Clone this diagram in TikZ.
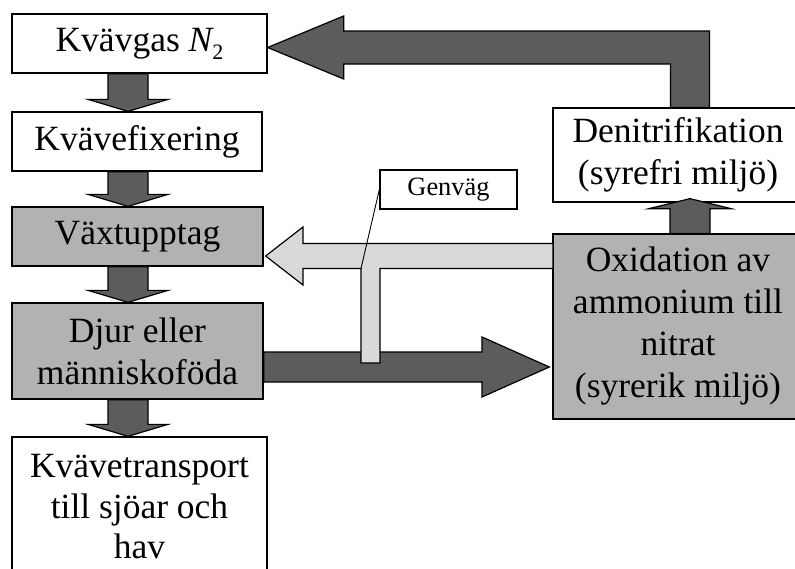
\documentclass[tikz,border=0pt]{standalone}
\usepackage{fontspec}
\setmainfont{Liberation Serif}
\usetikzlibrary{calc}
\tikzset{
  box/.style={draw=black, line width=1.3pt, inner sep=0pt, align=center,
    font=\fontsize{35.5}{42}\selectfont},
  lightbox/.style={box, fill=black!30},
  darkarrow/.style={fill=black!64, draw=black, line width=1.2pt, line join=miter},
  lightarrow/.style={fill=black!15, draw=black, line width=1.2pt, line join=miter},
  calloutline/.style={draw=black, line width=0.9pt}
}
\newcommand{\dnblock}[2]{%
  \filldraw[darkarrow] ($(#1.south -| colx)+(-20,0)$) -- ($(#2.north -| colx)+(-20,-12)$)
    -- ($(#2.north -| colx)+(-40,-12)$) -- (#2.north -| colx)
    -- ($(#2.north -| colx)+(40,-12)$) -- ($(#2.north -| colx)+(20,-12)$)
    -- ($(#1.south -| colx)+(20,0)$) -- cycle;}
\begin{document}
\begin{tikzpicture}[x=1pt,y=-1pt]
\useasboundingbox (0,0) rectangle (795,568);
\clip (0,0) rectangle (795,568);
% left column
\node[box, minimum width=255pt, minimum height=59pt] (kvg) at (139.5,43.5)
  {Kvävgas {\itshape N}\raisebox{-0.22em}{\fontsize{22}{22}\selectfont 2}};
\node[box, minimum width=250pt, minimum height=59pt] (kvf) at (137,141.5) {Kvävefixering};
\node[lightbox, minimum width=251pt, minimum height=59pt] (vax) at (137.5,236.5) {Växtupptag};
\node[lightbox, minimum width=251pt, minimum height=96pt] (djur) at (137.5,351)
  {Djur eller\\människoföda};
\node[box, minimum width=255pt, minimum height=140pt,
  font=\fontsize{35.5}{40.5}\selectfont] (kvt) at (139.5,507)
  {Kvävetransport\\till sjöar och\\hav};
% right column
\node[box, minimum width=250pt, minimum height=94pt, fill=white] (den) at (678,155)
  {Denitrifikation\\(syrefri miljö)};
\node[lightbox, minimum width=250pt, minimum height=185pt] (oxi) at (678,326.5)
  {Oxidation av\\ammonium till\\nitrat\\(syrerik miljö)};
% callout box
\node[box, fill=white, minimum width=137pt, minimum height=39pt,
  font=\fontsize{26.4}{30}\selectfont] (gen) at (448.5,189.5) {Genväg};
% helper coordinates
\coordinate (colx) at (128,0);
\coordinate (rcol) at (690,0);
\coordinate (ry) at (0,367);
\coordinate (ly) at (0,256);
% vertical arrows in the left column
\dnblock{kvg}{kvf}
\dnblock{kvf}{vax}
\dnblock{vax}{djur}
\dnblock{djur}{kvt}
% up arrow oxidation -> denitrifikation
\filldraw[darkarrow] ($(oxi.north -| rcol)+(-20,0)$) -- ($(den.south -| rcol)+(-20,6)$)
  -- ($(den.south -| rcol)+(-41,6)$) -- ($(den.south -| rcol)+(0,-4)$)
  -- ($(den.south -| rcol)+(41,6)$) -- ($(den.south -| rcol)+(20,6)$)
  -- ($(oxi.north -| rcol)+(20,0)$) -- cycle;
% big return arrow denitrifikation -> kvävgas
\coordinate (t1) at ($(kvg.east)+(0,4)$);
\filldraw[darkarrow] ($(den.north -| rcol)+(-19.5,0)$) |- ($(t1)+(76,16.5)$)
  -- ($(t1)+(76,31.5)$) -- (t1) -- ($(t1)+(76,-31.5)$) -- ($(t1)+(76,-16.5)$)
  -| ($(den.north -| rcol)+(19.5,0)$) -- cycle;
% dark arrow djur -> oxidation
\filldraw[darkarrow] ($(djur.east |- ry)+(0,-15)$) -- (482,352) -- (482,337)
  -- ($(oxi.west |- ry)+(-3,0)$) -- (482,397) -- (482,382)
  -- ($(djur.east |- ry)+(0,15)$) -- cycle;
% light arrow oxidation -> växtupptag with shortcut branch
\coordinate (br) at (361,268.5);
\filldraw[lightarrow] ($(oxi.west |- ly)+(0,-12.5)$) -- (303,243.5) -- (303,227)
  -- ($(vax.east |- ly)+(2,0)$) -- (303,285) -- (303,268.5) -- (br)
  -- (361,363) -- (380,363) -- (380,268.5)
  -- ($(oxi.west |- ly)+(0,12.5)$);
% callout line
\draw[calloutline] (gen.west) -- (br);
\end{tikzpicture}
\end{document}
